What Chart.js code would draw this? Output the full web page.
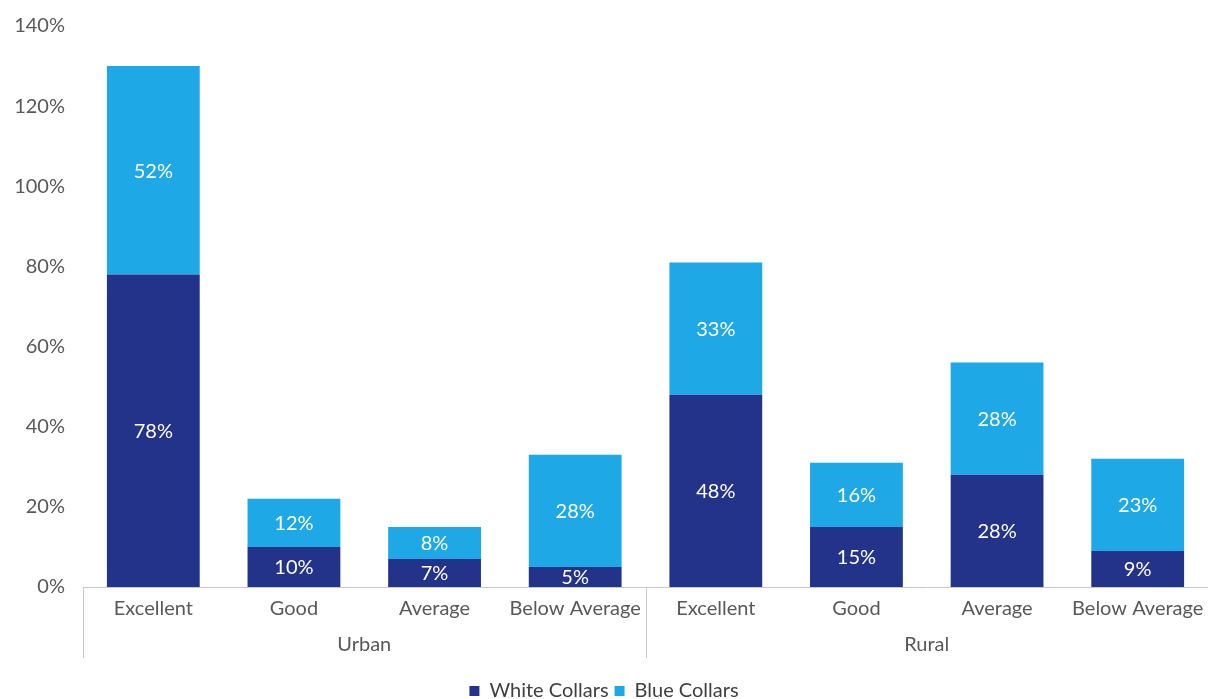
<!DOCTYPE html>
<html>
<head>
<meta charset="utf-8">
<script src="https://cdn.jsdelivr.net/npm/chart.js@4"></script>
<style>
  html, body { margin: 0; padding: 0; background: #ffffff; }
  #wrap { width: 1208px; height: 699px; }
</style>
</head>
<body>
<div id="wrap"><canvas id="c" width="1208" height="699"></canvas></div>
<script>
const categories = ['Excellent', 'Good', 'Average', 'Below Average', 'Excellent', 'Good', 'Average', 'Below Average'];
const groups = ['Urban', 'Rural'];
const whiteCollars = [78, 10, 7, 5, 48, 15, 28, 9];
const blueCollars = [52, 12, 8, 28, 33, 16, 28, 23];
const yTicks = [0, 20, 40, 60, 80, 100, 120, 140];

const FONT = 'Lato, "Open Sans", sans-serif';
const FS = 20;

const valueLabels = {
  id: 'valueLabels',
  afterDatasetsDraw(chart) {
    const ctx = chart.ctx;
    ctx.save();
    ctx.fillStyle = '#ffffff';
    ctx.font = FS + 'px ' + FONT;
    ctx.textAlign = 'center';
    ctx.textBaseline = 'middle';
    chart.data.datasets.forEach((ds, di) => {
      const meta = chart.getDatasetMeta(di);
      meta.data.forEach((bar, i) => {
        const cy = (bar.y + bar.base) / 2;
        ctx.fillText(ds.data[i] + '%', bar.x, cy + 1);
      });
    });
    ctx.restore();
  }
};

const separators = {
  id: 'separators',
  afterDraw(chart) {
    const x = chart.scales.x;
    const ctx = chart.ctx;
    const n = categories.length;
    const step = (x.right - x.left) / n;
    const positions = [x.left, x.left + step * (n / groups.length)];
    ctx.save();
    ctx.strokeStyle = '#c8c8c8';
    ctx.lineWidth = 1;
    positions.forEach(px => {
      const p = Math.round(px) + 0.5;
      ctx.beginPath();
      ctx.moveTo(p, x.top);
      ctx.lineTo(p, x.top + 71);
      ctx.stroke();
    });
    ctx.restore();
  }
};

new Chart(document.getElementById('c'), {
  type: 'bar',
  data: {
    labels: categories,
    datasets: [
      { label: 'White Collars', data: whiteCollars, backgroundColor: '#24338a', barPercentage: 0.66, categoryPercentage: 1.0 },
      { label: 'Blue Collars', data: blueCollars, backgroundColor: '#1fa8e6', barPercentage: 0.66, categoryPercentage: 1.0 }
    ]
  },
  options: {
    responsive: false,
    animation: false,
    layout: { padding: { top: 26, left: 0, right: 0, bottom: -12 } },
    plugins: {
      legend: {
        position: 'bottom',
        labels: {
          boxWidth: 10, boxHeight: 10, padding: 6,
          color: '#404040',
          font: { family: FONT, size: FS }
        }
      },
      tooltip: { enabled: false }
    },
    scales: {
      x: {
        stacked: true,
        grid: { display: false },
        border: { display: true, color: '#c8c8c8' },
        ticks: { color: '#595959', font: { family: FONT, size: FS }, padding: 2, maxRotation: 0, autoSkip: false }
      },
      x2: {
        type: 'category',
        labels: groups,
        position: 'bottom',
        offset: true,
        grid: { display: false },
        border: { display: false },
        ticks: { color: '#595959', font: { family: FONT, size: FS }, padding: 2 },
        afterFit(scale) { scale.height = 52; }
      },
      y: {
        stacked: true,
        min: 0, max: 140,
        afterBuildTicks(scale) { scale.ticks = yTicks.map(v => ({ value: v })); },
        grid: { display: false },
        border: { display: false },
        ticks: { color: '#595959', font: { family: FONT, size: FS }, padding: 10, callback: v => v + '%' },
        afterFit(scale) { scale.width = 83; }
      }
    }
  },
  plugins: [valueLabels, separators]
});
</script>
</body>
</html>
